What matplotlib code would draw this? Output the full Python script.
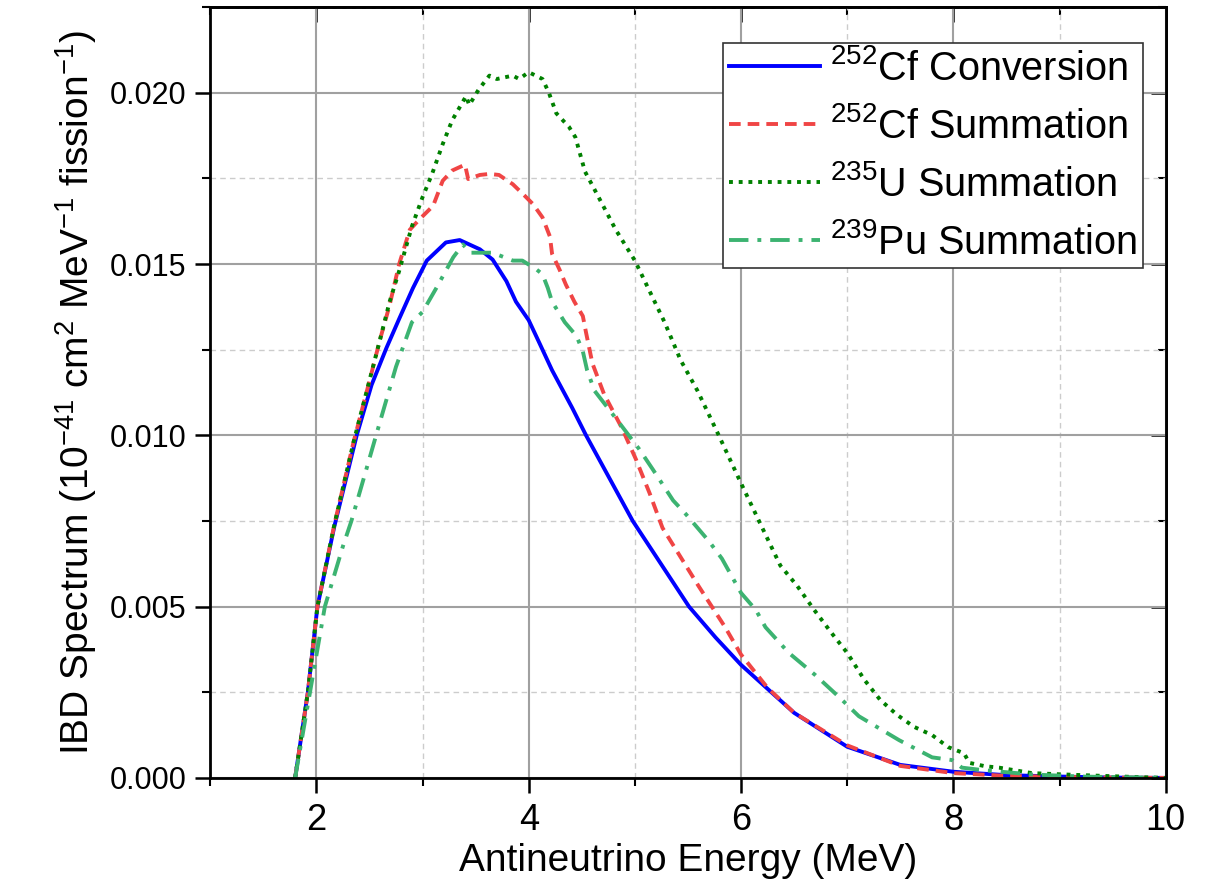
import matplotlib
matplotlib.use('Agg')
import matplotlib.pyplot as plt
from matplotlib.ticker import MultipleLocator, FormatStrFormatter

plt.rcParams['font.family'] = ['Liberation Sans', 'DejaVu Sans']
plt.rcParams['mathtext.fontset'] = 'custom'
plt.rcParams['mathtext.rm'] = 'Liberation Sans'
plt.rcParams['mathtext.it'] = 'Liberation Sans:italic'
plt.rcParams['mathtext.bf'] = 'Liberation Sans:bold'

################################################################
#     DATA                    #
################################################################
cf_conv_E = [1.80, 1.92, 2.01, 2.17, 2.38, 2.52, 2.66, 2.78, 2.91, 3.04, 3.22, 3.35, 3.54,
             3.66, 3.79, 3.88, 4.00, 4.10, 4.22, 4.41, 4.54, 4.98, 5.51, 5.76, 6.00, 6.50,
             7.00, 7.50, 8.00, 8.50, 9.00, 9.50, 10.0]
cf_conv_y = [0.0, 0.0025, 0.0050, 0.00735, 0.0100, 0.01147, 0.01255, 0.0134, 0.0143, 0.0151,
             0.01563, 0.0157, 0.01543, 0.01513, 0.0145, 0.0139, 0.01336, 0.0127, 0.0119,
             0.0108, 0.0100, 0.0075, 0.0050, 0.0041, 0.0033, 0.0019, 0.00091, 0.00038,
             0.00018, 0.00008, 0.00004, 0.00001, 0.0]

cf_sum_E = [1.80, 1.92, 2.01, 2.17, 2.35, 2.50, 2.60, 2.69, 2.78, 2.88, 2.97, 3.10, 3.19,
            3.28, 3.40, 3.43, 3.54, 3.63, 3.72, 3.85, 3.96, 4.04, 4.13, 4.20, 4.22, 4.29,
            4.35, 4.43, 4.51, 4.54, 4.60, 4.71, 4.88, 5.01, 5.14, 5.26, 5.42, 5.60, 5.85,
            6.00, 6.25, 6.50, 7.00, 7.50, 8.00, 8.50, 9.00, 9.50, 10.0]
cf_sum_y = [0.0, 0.0025, 0.0050, 0.0074, 0.0098, 0.01158, 0.0128, 0.0138, 0.0150, 0.0160,
            0.0163, 0.0167, 0.01743, 0.01773, 0.0179, 0.01748, 0.0176, 0.01763, 0.0176,
            0.01733, 0.0170, 0.01675, 0.01636, 0.0158, 0.0153, 0.01484, 0.0144, 0.0139,
            0.01348, 0.0130, 0.0121, 0.0112, 0.0102, 0.0093, 0.0083, 0.0073, 0.0065, 0.0056,
            0.0044, 0.0036, 0.00263, 0.0019, 0.00095, 0.00035, 0.00014, 0.00006, 0.00003,
            0.00001, 0.0]

u235_E = [1.80, 1.92, 2.01, 2.17, 2.35, 2.50, 2.60, 2.69, 2.78, 2.90, 3.00, 3.09, 3.19,
          3.28, 3.41, 3.44, 3.53, 3.63, 3.70, 3.85, 3.91, 4.00, 4.13, 4.19, 4.26, 4.38,
          4.44, 4.53, 4.65, 4.82, 5.00, 5.28, 5.43, 5.59, 5.79, 6.00, 6.22, 6.37, 6.53,
          6.69, 6.85, 7.00, 7.16, 7.31, 7.47, 7.63, 7.80, 7.95, 8.10, 8.15, 8.30, 8.43,
          8.74, 9.05, 9.40, 9.68, 10.0]
u235_y = [0.0, 0.0025, 0.0050, 0.0074, 0.0098, 0.0116, 0.0128, 0.0139, 0.0148, 0.0161,
          0.01695, 0.01763, 0.0185, 0.0192, 0.0199, 0.01964, 0.0201, 0.0205, 0.0204,
          0.0205, 0.0204, 0.0206, 0.0204, 0.0200, 0.0194, 0.0190, 0.0187, 0.0177, 0.0170,
          0.0160, 0.0151, 0.0133, 0.0122, 0.0113, 0.0100, 0.0086, 0.00717, 0.0062, 0.0056,
          0.0049, 0.00424, 0.00365, 0.00287, 0.00228, 0.00184, 0.00149, 0.00125, 0.0009,
          0.00072, 0.00044, 0.00034, 0.0003, 0.00014, 0.0001, 0.00006, 0.00003, 0.0]

pu239_E = [1.80, 1.94, 2.08, 2.25, 2.33, 2.47, 2.60, 2.75, 2.90, 3.00, 3.13, 3.29, 3.38,
           3.45, 3.66, 3.85, 3.94, 4.07, 4.13, 4.18, 4.22, 4.34, 4.45, 4.51, 4.55, 4.62,
           4.82, 5.04, 5.17, 5.36, 5.48, 5.70, 5.82, 6.00, 6.14, 6.23, 6.45, 6.70, 6.92,
           7.11, 7.30, 7.49, 7.80, 7.99, 8.08, 8.27, 8.74, 9.20, 10.0]
pu239_y = [0.0, 0.0025, 0.0050, 0.00676, 0.0075, 0.0090, 0.0104, 0.0120, 0.0133, 0.0136,
           0.0143, 0.0152, 0.01557, 0.01533, 0.01533, 0.0151, 0.0151, 0.01485, 0.0147,
           0.0143, 0.0139, 0.0133, 0.0129, 0.01245, 0.0119, 0.0113, 0.0105, 0.0096, 0.0090,
           0.0081, 0.0077, 0.0069, 0.0064, 0.0054, 0.0049, 0.0044, 0.00365, 0.0030,
           0.00237, 0.0018, 0.00145, 0.0011, 0.0006, 0.00052, 0.0003, 0.00023, 0.0001,
           0.00004, 0.0]

labels = [r'$^{252}$Cf Conversion', r'$^{252}$Cf Summation',
          r'$^{235}$U Summation', r'$^{239}$Pu Summation']

################################################################
#     PLOTTING                                                 #
################################################################
fig = plt.figure(figsize=(12.08, 8.85), dpi=100)
ax = fig.add_axes([0.174, 0.121, 0.791, 0.871])

ax.plot(cf_conv_E, cf_conv_y, color='#0000ff', lw=2.8, ls='-', label=labels[0])
ax.plot(cf_sum_E, cf_sum_y, color='#f04545', lw=2.8, ls=(0, (3, 1.8)), label=labels[1])
ax.plot(u235_E, u235_y, color='#008000', lw=2.8, ls=(0, (1, 1.5)), label=labels[2])
ax.plot(pu239_E, pu239_y, color='#3cb371', lw=2.8, ls=(0, (5, 2.3, 1, 2.3)), label=labels[3])

ax.set_xlim(1, 10)
ax.set_ylim(0, 0.0225)
ax.xaxis.set_major_locator(MultipleLocator(2))
ax.xaxis.set_minor_locator(MultipleLocator(1))
ax.yaxis.set_major_locator(MultipleLocator(0.005))
ax.yaxis.set_minor_locator(MultipleLocator(0.0025))
ax.yaxis.set_major_formatter(FormatStrFormatter('%.3f'))

ax.set_axisbelow(True)
ax.grid(which='major', color='#a0a0a0', lw=1.5, ls='-')
ax.grid(which='minor', color='#cccccc', lw=1.0, ls=(0, (4, 3)))

for s in ax.spines.values():
    s.set_linewidth(2.0)

ax.tick_params(which='major', direction='out', length=11, width=1.8)
ax.tick_params(which='minor', direction='out', length=6, width=1.5)
ax.tick_params(axis='x', labelsize=26, pad=7)
ax.tick_params(axis='y', labelsize=22, pad=6)

# inward ticks on top and right
secx = ax.secondary_xaxis('top')
secx.xaxis.set_major_locator(MultipleLocator(2))
secx.xaxis.set_minor_locator(MultipleLocator(1))
secx.tick_params(which='major', direction='in', length=11, width=1.8, labeltop=False)
secx.tick_params(which='minor', direction='in', length=6, width=1.5)
secy = ax.secondary_yaxis('right')
secy.yaxis.set_major_locator(MultipleLocator(0.005))
secy.yaxis.set_minor_locator(MultipleLocator(0.0025))
secy.tick_params(which='major', direction='in', length=11, width=1.8, labelright=False)
secy.tick_params(which='minor', direction='in', length=6, width=1.5)
for sa in (secx, secy):
    for s in sa.spines.values():
        s.set_linewidth(2.0)

ax.set_xlabel('Antineutrino Energy (MeV)', fontsize=28, labelpad=4)
ax.set_ylabel(r'IBD Spectrum (10$^{-41}$ cm$^{2}$ MeV$^{-1}$ fission$^{-1}$)',
              fontsize=28, labelpad=8)

leg = ax.legend(loc='upper right', bbox_to_anchor=(0.976, 0.953), fontsize=28.5,
                frameon=True, fancybox=False, framealpha=1, edgecolor='#333333',
                handlelength=2.3, labelspacing=0.48, borderpad=0.15, handletextpad=0.25,
                borderaxespad=0)
leg.get_frame().set_linewidth(1.2)

fig.savefig('out.png', dpi=100)
